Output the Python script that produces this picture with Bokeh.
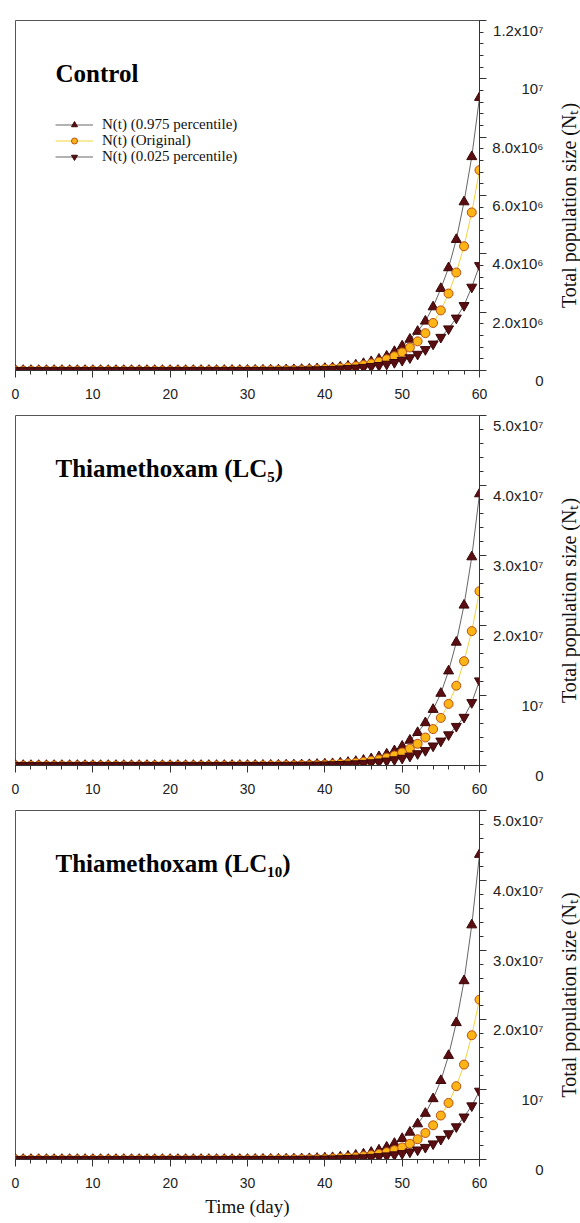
import math
from bokeh.plotting import figure
from bokeh.layouts import column, row
from bokeh.models import (SingleIntervalTicker, Label, CustomJSTickFormatter, Legend,
                          LegendItem, Range1d)
from bokeh.core.properties import value
from bokeh.embed import file_html
from bokeh.resources import INLINE

# ---------------- data ----------------
days = list(range(0, 61))

ctrl_hi = [10, 10, 10, 10, 12, 15, 19, 24, 30, 38, 49, 62, 79, 100, 128, 163, 208, 265, 337, 430,
           548, 700, 890, 1130, 1450, 1840, 2350, 3000, 3800, 4850, 6200, 7900, 10000, 12800, 16300,
           20800, 26500, 34000, 43000, 55000, 70000, 90000, 114000, 146000, 186000, 237000, 302000,
           385000, 490000, 650000, 840000, 1070000, 1340000, 1690000, 2180000, 2810000, 3520000,
           4490000, 5780000, 7330000, 9360000]
ctrl_orig = [10, 10, 10, 10, 10, 13, 16, 20, 26, 33, 42, 54, 68, 87, 110, 140, 178, 225, 290, 365,
             465, 590, 750, 950, 1210, 1540, 1950, 2500, 3150, 4000, 5100, 6500, 8300, 10500, 13400,
             17000, 21600, 27500, 35000, 44000, 56000, 72000, 91000, 116000, 147000, 187000, 237000,
             300000, 385000, 490000, 620000, 790000, 1000000, 1280000, 1630000, 2060000, 2640000,
             3360000, 4260000, 5420000, 6870000]
ctrl_lo = [10, 10, 10, 10, 10, 10, 13, 17, 21, 26, 33, 42, 53, 67, 84, 106, 133, 168, 212, 267,
           337, 425, 535, 675, 850, 1070, 1350, 1700, 2150, 2700, 3400, 4300, 5400, 6800, 8600,
           10900, 13700, 17200, 21700, 27400, 34500, 43500, 55000, 69000, 87000, 110000, 139000,
           175000, 220000, 278000, 350000, 440000, 560000, 720000, 910000, 1140000, 1430000,
           1800000, 2230000, 2860000, 3600000]

lc5_hi = [10, 10, 10, 12, 16, 21, 27, 35, 45, 59, 76, 99, 129, 168, 218, 284, 370, 480, 620, 810,
          1050, 1370, 1780, 2300, 3000, 3900, 5070, 6600, 8600, 11100, 14500, 18800, 24500, 31800,
          41400, 54000, 70000, 91000, 118000, 154000, 200000, 260000, 337000, 440000, 570000,
          740000, 960000, 1250000, 1620000, 2100000, 2750000, 3600000, 4700000, 6100000, 8000000,
          10300000, 13500000, 17600000, 22900000, 29800000, 38800000]
lc5_orig = [10, 10, 10, 12, 15, 19, 25, 32, 41, 53, 69, 89, 114, 148, 190, 246, 317, 410, 530, 680,
            880, 1130, 1460, 1890, 2440, 3150, 4060, 5230, 6750, 8700, 11300, 14500, 18800, 24200,
            31200, 40300, 52000, 67000, 87000, 112000, 144000, 186000, 240000, 310000, 400000,
            520000, 670000, 860000, 1110000, 1430000, 1850000, 2400000, 3100000, 4000000, 5200000,
            6800000, 8800000, 11400000, 14900000, 19200000, 24900000]
lc5_lo = [10, 10, 10, 12, 16, 20, 25, 32, 41, 52, 67, 86, 110, 140, 180, 230, 309, 393, 499, 634,
          805, 1020, 1300, 1650, 2100, 2660, 3380, 4300, 5450, 6900, 8800, 11200, 14200, 18000,
          22900, 29000, 36900, 46800, 59500, 75500, 96000, 122000, 155000, 197000, 250000, 317000,
          403000, 512000, 650000, 830000, 1050000, 1340000, 1700000, 2150000, 2800000, 3500000,
          4400000, 5600000, 6900000, 9000000, 12100000]

lc10_hi = [10, 10, 10, 10, 12, 16, 21, 27, 36, 47, 61, 80, 105, 137, 180, 236, 309, 405, 530, 695,
           910, 1190, 1560, 2050, 2680, 3510, 4600, 6030, 7900, 10400, 13600, 17800, 23300, 30500,
           39900, 52300, 68500, 90000, 118000, 154000, 202000, 265000, 347000, 455000, 600000,
           780000, 1020000, 1340000, 1760000, 2300000, 3000000, 3900000, 5100000, 6600000, 8700000,
           11300000, 14900000, 19600000, 25600000, 33600000, 43700000]
lc10_orig = [10, 10, 10, 11, 14, 18, 23, 30, 39, 50, 65, 84, 108, 140, 180, 232, 300, 386, 498, 643,
             830, 1070, 1380, 1780, 2300, 2960, 3820, 4930, 6360, 8200, 10600, 13700, 17600, 22700,
             29300, 37800, 49000, 63000, 81000, 105000, 135000, 175000, 225000, 291000, 375000,
             484000, 624000, 805000, 1040000, 1340000, 1730000, 2250000, 2900000, 3800000, 4900000,
             6300000, 8100000, 10500000, 13600000, 17800000, 22900000]
lc10_lo = [10, 10, 10, 11, 14, 17, 22, 28, 36, 46, 58, 77, 98, 125, 158, 201, 255, 324, 412, 523,
           664, 843, 1070, 1360, 1730, 2190, 2790, 3540, 4490, 5700, 7240, 9200, 11700, 14800,
           18800, 23900, 30300, 38500, 49000, 62000, 79000, 100000, 127000, 161000, 205000, 260000,
           330000, 420000, 535000, 680000, 860000, 1090000, 1380000, 1750000, 2250000, 2900000,
           3700000, 4700000, 6100000, 7700000, 9800000]

ctrl_yticks = [0, 2e6, 4e6, 6e6, 8e6, 1e7, 1.2e7]
ctrl_ylabels = ["0", "2.0x10\u2076", "4.0x10\u2076", "6.0x10\u2076", "8.0x10\u2076", "10\u2077",
                "1.2x10\u2077"]
lc_yticks = [0, 1e7, 2e7, 3e7, 4e7, 5e7]
lc_ylabels = ["0", "10\u2077", "2.0x10\u2077", "3.0x10\u2077", "4.0x10\u2077", "5.0x10\u2077"]

panel_titles = ["Control", "Thiamethoxam (LC\u2085)", "Thiamethoxam (LC\u2081\u2080)"]
series_names = ["N(t) (0.975 percentile)", "N(t) (Original)", "N(t) (0.025 percentile)"]
y_title = "Total population size (N\u209c)"
x_title = "Time (day)"

# ---------------- style ----------------
SERIF = "Liberation Serif"
SANS = "Liberation Sans"
HI_FILL, HI_LINE = "#5a0e12", "#3a0808"
OR_FILL, OR_LINE = "#fdb515", "#b5501a"
GREY_LINE = "#666666"
YEL_LINE = "#f2d33c"
AX = "#333333"

FRAME_W = 464
LEFT = 15
RIGHT = 8
SIDE_W = 580 - LEFT - FRAME_W - RIGHT
PAD = 10
ROW = 16


def make_panel(title, hi, orig, lo, yticks, ylabels, frame_h, top, bottom, legend, xlabel):
    ymax = yticks[-1]
    p = figure(frame_width=FRAME_W, frame_height=frame_h, x_range=(days[0], days[-1]),
               y_range=(0, ymax), y_axis_location="right", output_backend="svg",
               toolbar_location=None, min_border_left=LEFT, min_border_right=RIGHT,
               min_border_top=top, min_border_bottom=bottom)
    p.xgrid.visible = False
    p.ygrid.visible = False
    p.outline_line_color = "#555555"
    p.background_fill_color = "white"
    p.border_fill_color = "white"

    xa = p.xaxis[0]
    xa.ticker = SingleIntervalTicker(interval=10, num_minor_ticks=5)
    xa.major_tick_out = 7
    xa.major_tick_in = 0
    xa.minor_tick_out = 4
    xa.minor_tick_in = 0
    xa.major_label_standoff = 11
    xa.major_label_text_font = SANS
    xa.major_label_text_font_size = "14px"
    xa.major_label_text_color = "#222222"
    xa.axis_line_color = AX
    xa.major_tick_line_color = AX
    xa.minor_tick_line_color = AX
    if xlabel:
        xa.axis_label = x_title
        xa.axis_label_text_font = SERIF
        xa.axis_label_text_font_size = "19px"
        xa.axis_label_text_font_style = "normal"
        xa.axis_label_text_color = "#111111"
        xa.axis_label_standoff = 5

    ya = p.yaxis[0]
    ya.ticker = SingleIntervalTicker(interval=yticks[1] - yticks[0], num_minor_ticks=5)
    ya.formatter = CustomJSTickFormatter(code="return ''")
    ya.major_label_standoff = 0
    ya.major_tick_out = 7
    ya.major_tick_in = 0
    ya.minor_tick_out = 4
    ya.minor_tick_in = 0
    ya.axis_line_color = AX
    ya.major_tick_line_color = AX
    ya.minor_tick_line_color = AX

    p.add_layout(Label(x=days[0], y=ymax, x_offset=40, y_offset=-53, text=title,
                       text_align="left", text_baseline="middle", text_font=SERIF,
                       text_font_size="25px", text_font_style="bold", text_color="#000000"))

    rs = []
    rs.append([p.line(days, hi, line_color=GREY_LINE, line_width=1),
               p.scatter(days, hi, marker="triangle", size=10, fill_color=HI_FILL,
                         line_color=HI_LINE, line_width=1)])
    rs.append([p.line(days, orig, line_color=YEL_LINE, line_width=1),
               p.scatter(days, orig, marker="circle", size=9, fill_color=OR_FILL,
                         line_color=OR_LINE, line_width=1)])
    rs.append([p.line(days, lo, line_color=GREY_LINE, line_width=1),
               p.scatter(days, lo, marker="inverted_triangle", size=10, fill_color=HI_FILL,
                         line_color=HI_LINE, line_width=1)])

    if legend:
        # one single-row legend per entry, rows ROW px apart
        for i, (name, r) in enumerate(zip(series_names, rs)):
            lg = Legend(items=[LegendItem(label=name, renderers=r)],
                        location=(40, frame_h - 105 - ROW * i - 8))
            lg.label_text_font = SERIF
            lg.label_text_font_size = "15px"
            lg.label_text_color = "#111111"
            lg.border_line_color = None
            lg.background_fill_alpha = 0
            lg.padding = 0
            lg.margin = 0
            lg.spacing = 0
            lg.label_height = 15
            lg.glyph_height = 15
            lg.glyph_width = 38
            lg.label_standoff = 9
            p.add_layout(lg)

    # side strip carrying the right-aligned tick labels and the rotated axis title
    k = ymax / frame_h
    q = figure(frame_width=SIDE_W, frame_height=frame_h + 2 * PAD, x_range=(0, 1),
               y_range=Range1d(-PAD * k, ymax + PAD * k), output_backend="svg",
               toolbar_location=None, x_axis_location=None, y_axis_location=None,
               min_border_left=0, min_border_right=0, min_border_top=top - PAD,
               min_border_bottom=bottom - PAD)
    q.grid.visible = False
    q.outline_line_color = None
    q.background_fill_color = "white"
    q.border_fill_color = "white"
    q.text(x=[0] * len(yticks), y=yticks, text=ylabels, x_offset=56, text_align="right",
           text_baseline="middle", text_font=value(SANS), text_font_size="15px",
           text_color="#222222")
    q.text(x=[0], y=[ymax / 2], text=[y_title], angle=math.pi / 2, x_offset=81,
           text_align="center", text_baseline="middle", text_font=value(SERIF),
           text_font_size="20px", text_color="#111111")
    return row(p, q, spacing=0)


r1 = make_panel(panel_titles[0], ctrl_hi, ctrl_orig, ctrl_lo, ctrl_yticks, ctrl_ylabels,
                350, 20, 35, True, False)
r2 = make_panel(panel_titles[1], lc5_hi, lc5_orig, lc5_lo, lc_yticks, lc_ylabels,
                350, 10, 35, False, False)
r3 = make_panel(panel_titles[2], lc10_hi, lc10_orig, lc10_lo, lc_yticks, lc_ylabels,
                349, 10, 62, False, True)

layout = column(r1, r2, r3, spacing=0)
open("out.html", "w").write(file_html(layout, INLINE))
